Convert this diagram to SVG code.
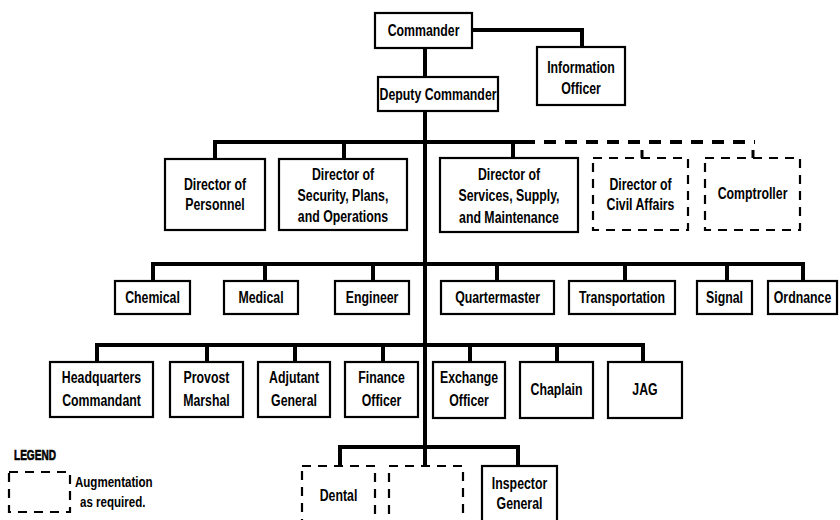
<svg xmlns="http://www.w3.org/2000/svg" width="840" height="520" viewBox="0 0 840 520">
<style>
.box{fill:#fff;stroke:#000;stroke-width:2.2}
.dbox{fill:#fff;stroke:#000;stroke-width:2.2;stroke-dasharray:9 7}
.t{font-family:"Liberation Sans",Arial,sans-serif;font-weight:bold;font-size:16px;text-anchor:middle;fill:#000;transform-box:fill-box;transform-origin:center;transform:scaleX(0.77)}
.c{fill:none;stroke:#000;stroke-width:4}
.cd{fill:none;stroke:#000;stroke-width:4;stroke-dasharray:12 9}
.lg{font-family:"Liberation Sans",Arial,sans-serif;font-weight:bold;font-size:15px;fill:#000;transform-box:fill-box;transform-origin:left center;transform:scaleX(0.77)}
.lgh{font-family:"Liberation Sans",Arial,sans-serif;font-weight:900;font-size:14px;fill:#000;stroke:#000;stroke-width:0.6;transform-box:fill-box;transform-origin:left center;transform:scaleX(0.72)}
</style>
<rect width="840" height="520" fill="#fff"/>
<g id="connectors">
<path class="c" d="M472 30H582V47"/>
<path class="c" d="M425 48V77M425 111V447"/>
<path class="c" d="M215 159V142H523M344 142V159M513 142V158"/>
<path class="cd" d="M523 142H755"/>
<path class="c" d="M642 150V158M753 150V158" style="stroke-width:3"/>
<path class="c" d="M153 281V264H803V281M265 264V281M373 264V281M497 264V281M625 264V281M727 264V281"/>
<path class="c" d="M97 362V345H643V362M207 345V362M295 345V362M383 345V362M470 345V362M557 345V362"/>
<path class="c" d="M340 466V447H518V466M425 447V466"/>
</g>
<g id="commander"><rect class="box" x="375" y="13" width="97" height="35"/><text class="t" x="423.5" y="36">Commander</text></g>
<g id="information-officer"><rect class="box" x="537" y="47" width="88" height="58"/><text class="t" x="581" y="73">Information</text><text class="t" x="581" y="94">Officer</text></g>
<g id="deputy-commander"><rect class="box" x="378" y="77" width="120" height="34"/><text class="t" x="438" y="100">Deputy Commander</text></g>
<g id="dir-personnel"><rect class="box" x="165" y="159" width="100" height="71"/><text class="t" x="215" y="190">Director of</text><text class="t" x="215" y="210">Personnel</text></g>
<g id="dir-security"><rect class="box" x="279" y="159" width="128" height="71"/><text class="t" x="343" y="180">Director of</text><text class="t" x="343" y="201">Security, Plans,</text><text class="t" x="343" y="222">and Operations</text></g>
<g id="dir-services"><rect class="box" x="440" y="158" width="138" height="74"/><text class="t" x="509" y="180">Director of</text><text class="t" x="509" y="201">Services, Supply,</text><text class="t" x="509" y="223">and Maintenance</text></g>
<g id="dir-civil-affairs"><rect class="dbox" x="593" y="158" width="95" height="72"/><text class="t" x="640.5" y="190">Director of</text><text class="t" x="640.5" y="210">Civil Affairs</text></g>
<g id="comptroller"><rect class="dbox" x="705" y="158" width="95" height="72"/><text class="t" x="752.5" y="199">Comptroller</text></g>
<g id="chemical"><rect class="box" x="115" y="281" width="75" height="33"/><text class="t" x="152.5" y="303">Chemical</text></g>
<g id="medical"><rect class="box" x="224" y="281" width="74" height="33"/><text class="t" x="261" y="303">Medical</text></g>
<g id="engineer"><rect class="box" x="335" y="281" width="74" height="33"/><text class="t" x="372" y="303">Engineer</text></g>
<g id="quartermaster"><rect class="box" x="441" y="281" width="113" height="33"/><text class="t" x="497.5" y="303">Quartermaster</text></g>
<g id="transportation"><rect class="box" x="569" y="281" width="106" height="33"/><text class="t" x="622" y="303">Transportation</text></g>
<g id="signal"><rect class="box" x="697" y="281" width="55" height="33"/><text class="t" x="724.5" y="303">Signal</text></g>
<g id="ordnance"><rect class="box" x="768" y="281" width="69" height="33"/><text class="t" x="802.5" y="303">Ordnance</text></g>
<g id="hq-commandant"><rect class="box" x="50" y="362" width="103" height="55"/><text class="t" x="101.5" y="383">Headquarters</text><text class="t" x="101.5" y="406">Commandant</text></g>
<g id="provost-marshal"><rect class="box" x="170" y="362" width="73" height="55"/><text class="t" x="206.5" y="383">Provost</text><text class="t" x="206.5" y="406">Marshal</text></g>
<g id="adjutant-general"><rect class="box" x="258" y="362" width="72" height="55"/><text class="t" x="294" y="383">Adjutant</text><text class="t" x="294" y="406">General</text></g>
<g id="finance-officer"><rect class="box" x="345" y="362" width="73" height="55"/><text class="t" x="381.5" y="383">Finance</text><text class="t" x="381.5" y="406">Officer</text></g>
<g id="exchange-officer"><rect class="box" x="433" y="362" width="72" height="56"/><text class="t" x="469" y="383">Exchange</text><text class="t" x="469" y="406">Officer</text></g>
<g id="chaplain"><rect class="box" x="520" y="362" width="73" height="56"/><text class="t" x="556.5" y="395">Chaplain</text></g>
<g id="jag"><rect class="box" x="608" y="362" width="74" height="56"/><text class="t" x="645" y="395">JAG</text></g>
<g id="dental"><rect class="dbox" x="302" y="466" width="73" height="62"/><text class="t" x="338.5" y="501">Dental</text></g>
<g id="blank-augmentation"><rect class="dbox" x="389" y="466" width="74" height="62"/></g>
<g id="inspector-general"><rect class="box" x="482" y="466" width="75" height="62"/><text class="t" x="519.5" y="489">Inspector</text><text class="t" x="519.5" y="509">General</text></g>
<g id="legend">
<text class="lgh" x="14" y="460">LEGEND</text>
<rect class="dbox" x="9" y="472" width="61" height="40"/>
<text class="lg" x="75" y="487">Augmentation</text>
<text class="lg" x="80" y="507">as required.</text>
</g>
</svg>
